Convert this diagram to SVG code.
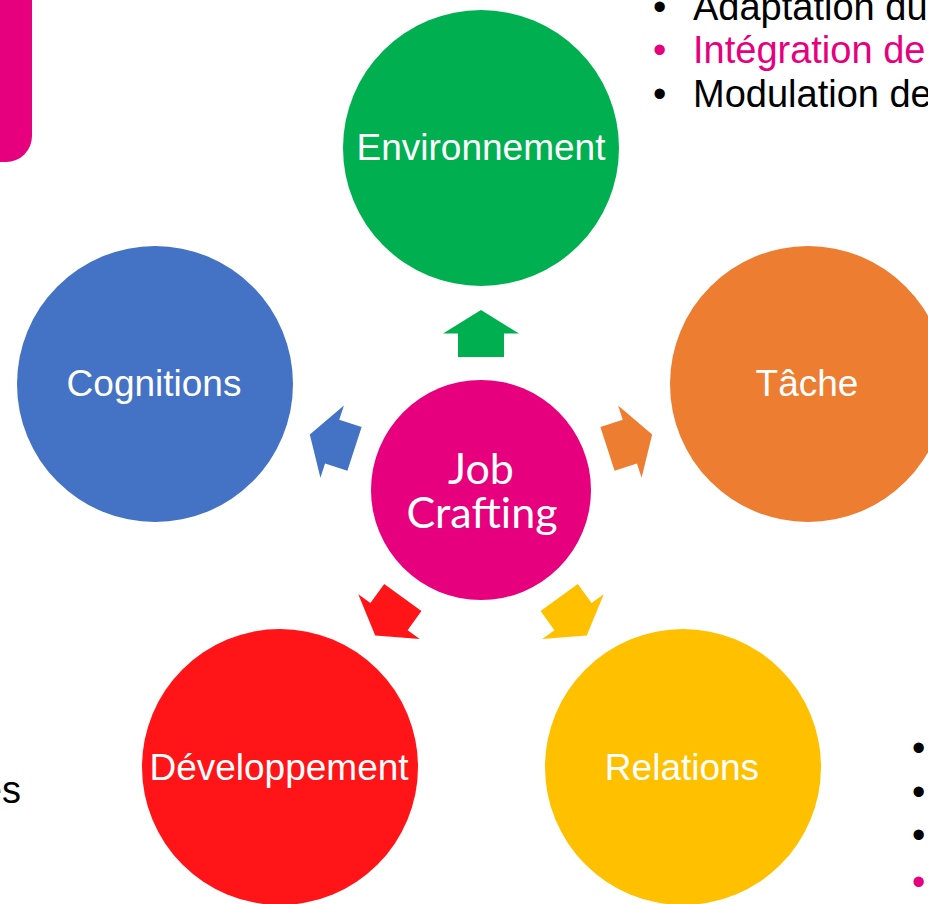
<svg xmlns="http://www.w3.org/2000/svg" width="928" height="904" viewBox="0 0 928 904">
  <style>
    .lbl { font-family: "Liberation Sans", Arial, sans-serif; font-size: 37px; fill: #ffffff; text-anchor: middle; }
    .core { font-family: "Lato", "Open Sans", sans-serif; font-size: 43px; fill: #ffffff; text-anchor: middle; }
    .txt { font-family: "Liberation Sans", Arial, sans-serif; font-size: 38px; fill: #000000; }
    .pink { fill: #E6007E; }
  </style>
  <defs>
    <!-- upward block arrow, rotated about the hub for each spoke -->
    <polygon id="arrow" points="481,310 519,333.5 504,333.5 504,357 458,357 458,333.5 443,333.5"/>
  </defs>

  <rect width="928" height="904" fill="#ffffff"/>

  <!-- side tab -->
  <rect id="tab" x="-40" y="-40" width="72" height="202" rx="26" fill="#E6007E"/>

  <!-- side notes -->
  <g id="notes-top">
    <text class="txt" x="653" y="20">•</text>
    <text class="txt" x="693" y="20">Adaptation du</text>
    <text class="txt pink" x="653" y="63">•</text>
    <text class="txt pink" x="693" y="63">Intégration de</text>
    <text class="txt" x="653" y="107">•</text>
    <text class="txt" x="693" y="107">Modulation de</text>
  </g>
  <g id="notes-right">
    <text class="txt" x="912" y="761">•</text>
    <text class="txt" x="912" y="805">•</text>
    <text class="txt" x="912" y="848">•</text>
    <text class="txt pink" x="912" y="895">•</text>
  </g>
  <g id="notes-left">
    <text class="txt" x="21" y="803" text-anchor="end">es</text>
  </g>

  <!-- connectors -->
  <g id="connectors">
    <use href="#arrow" fill="#00B050"/>
    <use href="#arrow" fill="#ED7D31" transform="rotate(72 481 490)"/>
    <use href="#arrow" fill="#FFC000" transform="rotate(144 481 490)"/>
    <use href="#arrow" fill="#FF1518" transform="rotate(216 481 490)"/>
    <use href="#arrow" fill="#4472C4" transform="rotate(288 481 490)"/>
  </g>

  <g id="environnement">
    <circle cx="481" cy="148" r="138" fill="#00B050"/>
    <text class="lbl" x="481" y="160">Environnement</text>
  </g>
  <g id="tache">
    <circle cx="808" cy="384" r="138" fill="#ED7D31"/>
    <text class="lbl" x="807" y="396">Tâche</text>
  </g>
  <g id="relations">
    <circle cx="683" cy="767" r="138" fill="#FFC000"/>
    <text class="lbl" x="682" y="780">Relations</text>
  </g>
  <g id="developpement">
    <circle cx="280" cy="767" r="138" fill="#FF1518"/>
    <text class="lbl" x="279" y="780">Développement</text>
  </g>
  <g id="cognitions">
    <circle cx="155" cy="384" r="138" fill="#4472C4"/>
    <text class="lbl" x="154" y="396">Cognitions</text>
  </g>
  <g id="job-crafting">
    <circle cx="481" cy="490" r="110" fill="#E6007E"/>
    <text class="core"><tspan x="481" y="484">Job</tspan><tspan x="482" y="528">Crafting</tspan></text>
  </g>
</svg>
